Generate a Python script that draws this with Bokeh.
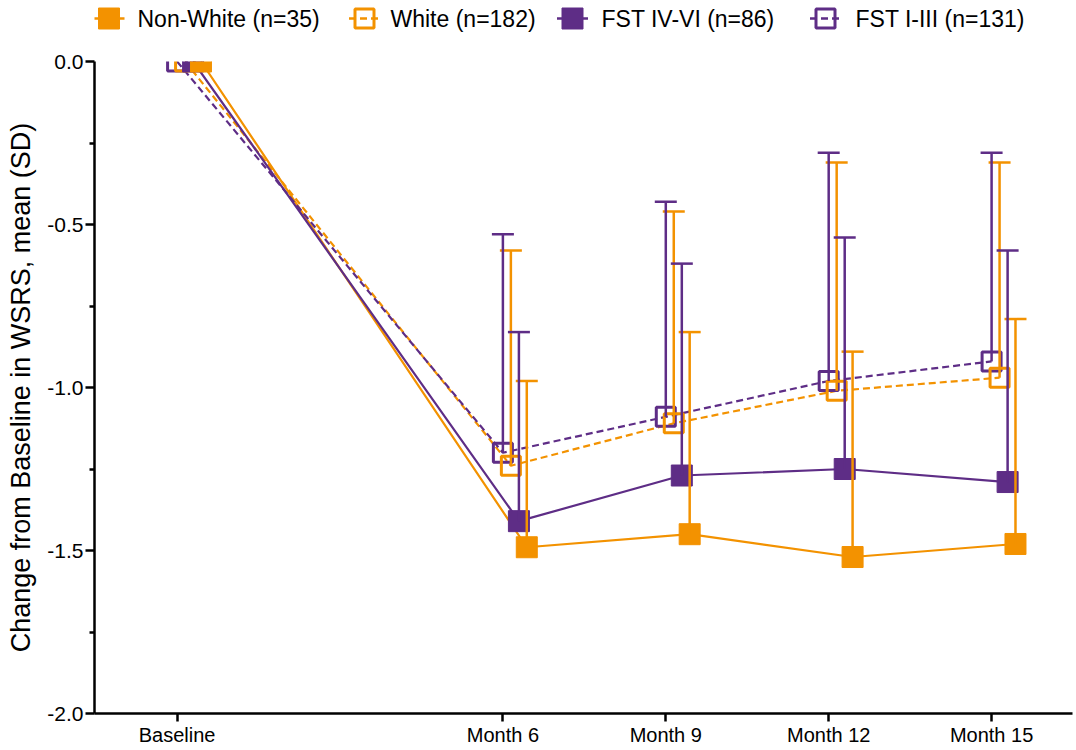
from bokeh.plotting import figure
from bokeh.layouts import column
from bokeh.models import (Range1d, FixedTicker, Whisker, TeeHead, ColumnDataSource)
from bokeh.core.properties import value
from bokeh.embed import file_html
from bokeh.resources import INLINE

# ---------------- data ----------------
x_labels = ["Baseline", "Month 6", "Month 9", "Month 12", "Month 15"]
months = [0, 6, 9, 12, 15]

series_names = ["Non-White (n=35)", "White (n=182)", "FST IV-VI (n=86)", "FST I-III (n=131)"]
nonwhite_mean = [0.0, -1.49, -1.45, -1.52, -1.48]
nonwhite_sd = [0.0, 0.51, 0.62, 0.63, 0.69]
white_mean = [0.0, -1.24, -1.11, -1.01, -0.97]
white_sd = [0.0, 0.66, 0.65, 0.70, 0.66]
fst46_mean = [0.0, -1.41, -1.27, -1.25, -1.29]
fst46_sd = [0.0, 0.58, 0.65, 0.71, 0.71]
fst13_mean = [0.0, -1.20, -1.09, -0.98, -0.92]
fst13_sd = [0.0, 0.67, 0.66, 0.70, 0.64]

y_ticks = [-2.0, -1.5, -1.0, -0.5, 0.0]
y_tick_labels = ["-2.0", "-1.5", "-1.0", "-0.5", "0.0"]
y_minor = [-1.75, -1.25, -0.75, -0.25]
y_min, y_max = -2.0, 0.0

# ---------------- style ----------------
ORANGE = "#F39200"
PURPLE = "#5E2D86"
FONT = "Liberation Sans"

W = 1076
LEG_H = 49                 # legend strip height
H = 750 - LEG_H            # main figure height
LEFT, TOP, BOTTOM, RIGHT = 94, 12, 37, 4
px_per_month = 54.3
x_start = -1.521
frame_w = W - LEFT - RIGHT
x_end = x_start + frame_w / px_per_month

colors = [ORANGE, ORANGE, PURPLE, PURPLE]
filled = [True, False, True, False]
dashes = ["solid", "7 4", "solid", "7 4"]
offsets = [0.44, 0.147, 0.295, 0.0]  # horizontal dodge in months

# ---------------- legend strip ----------------
# (its frame is aligned with the main plot's frame by the column layout,
#  so the x range is expressed in page pixels of that frame)
leg = figure(width=W, height=LEG_H, output_backend="svg", toolbar_location=None,
             x_range=Range1d(LEFT, W - RIGHT), y_range=Range1d(LEG_H, 0),
             x_axis_type=None, y_axis_type=None,
             min_border_left=LEFT, min_border_right=RIGHT, min_border_top=0, min_border_bottom=0)
leg.outline_line_color = None
leg.grid.visible = False
glyph_x0 = [93, 348.5, 556.5, 809.5]
text_x = [137, 390, 601, 855]
LEG_Y = 18
for i in range(4):
    leg.segment(x0=[glyph_x0[i]], y0=[LEG_Y], x1=[glyph_x0[i] + 31], y1=[LEG_Y],
                line_color=colors[i], line_width=2.5, line_dash=dashes[i])
    cx = glyph_x0[i] + 15.5
    if filled[i]:
        leg.scatter(x=[cx], y=[LEG_Y], marker="square", size=21,
                    fill_color=colors[i], line_color=colors[i], line_width=1)
    else:
        leg.scatter(x=[cx], y=[LEG_Y], marker="square", size=19,
                    fill_color=None, line_color=colors[i], line_width=3)
    leg.text(x=[text_x[i]], y=[LEG_Y], text=[series_names[i]],
             text_font=value(FONT), text_font_size="23px", text_color="black",
             text_align="left", text_baseline="middle")

# ---------------- main plot ----------------
p = figure(width=W, height=H, output_backend="svg", toolbar_location=None,
           x_range=Range1d(x_start, x_end), y_range=Range1d(y_min, y_max),
           min_border_left=LEFT, min_border_top=TOP, min_border_bottom=BOTTOM,
           min_border_right=RIGHT)
p.outline_line_color = None
p.grid.visible = False
p.background_fill_color = "white"

p.xaxis.ticker = FixedTicker(ticks=months)
p.xaxis.major_label_overrides = {m: l for m, l in zip(months, x_labels)}
p.yaxis.ticker = FixedTicker(ticks=y_ticks, minor_ticks=y_minor)
p.yaxis.major_label_overrides = {t: l for t, l in zip(y_ticks, y_tick_labels)}
for ax in (p.xaxis[0], p.yaxis[0]):
    ax.axis_line_width = 2.5
    ax.axis_line_color = "black"
    ax.major_tick_line_width = 2.5
    ax.major_tick_line_color = "black"
    ax.major_tick_in = 0
    ax.minor_tick_in = 0
    ax.minor_tick_out = 5
    ax.minor_tick_line_width = 2.5
    ax.major_label_text_font = FONT
    ax.major_label_text_color = "black"
p.yaxis.major_tick_out = 9
p.xaxis.major_tick_out = 8
p.xaxis.minor_tick_line_color = None
p.xaxis.major_label_text_font_size = "20px"
p.xaxis.major_label_standoff = 2
p.yaxis.major_label_text_font_size = "21px"
p.yaxis.major_label_standoff = 2
p.yaxis.axis_label = "Change from Baseline in WSRS, mean (SD)"
p.yaxis.axis_label_text_font = FONT
p.yaxis.axis_label_text_font_style = "normal"
p.yaxis.axis_label_text_font_size = "27px"
p.yaxis.axis_label_text_color = "black"
p.yaxis.axis_label_standoff = 8

means = [nonwhite_mean, white_mean, fst46_mean, fst13_mean]
sds = [nonwhite_sd, white_sd, fst46_sd, fst13_sd]

sources = []
for i in range(4):
    xs = [m + offsets[i] for m in months]
    src = ColumnDataSource(dict(x=xs, y=means[i]))
    sources.append(src)
    p.line("x", "y", source=src, line_color=colors[i], line_width=2.2,
           line_dash=dashes[i])

# error bars (upper only, skip baseline)
for i in range(4):
    xs = [m + offsets[i] for m in months][1:]
    lo = means[i][1:]
    up = [mv + sv for mv, sv in zip(means[i], sds[i])][1:]
    esrc = ColumnDataSource(dict(x=xs, lower=lo, upper=up))
    wk = Whisker(base="x", lower="lower", upper="upper", source=esrc,
                 dimension="height", line_color=colors[i], line_width=2.5,
                 upper_head=TeeHead(size=22, line_color=colors[i], line_width=2.5),
                 lower_head=None, level="glyph")
    p.add_layout(wk)

# markers (open first, filled on top)
for i in [3, 1, 2, 0]:
    if filled[i]:
        p.scatter("x", "y", source=sources[i], marker="square", size=21,
                  fill_color=colors[i], line_color=colors[i], line_width=1)
    else:
        p.scatter("x", "y", source=sources[i], marker="square", size=19,
                  fill_color=None, line_color=colors[i], line_width=3)

layout = column(leg, p, spacing=0)
open("out.html", "w").write(file_html(layout, INLINE))
